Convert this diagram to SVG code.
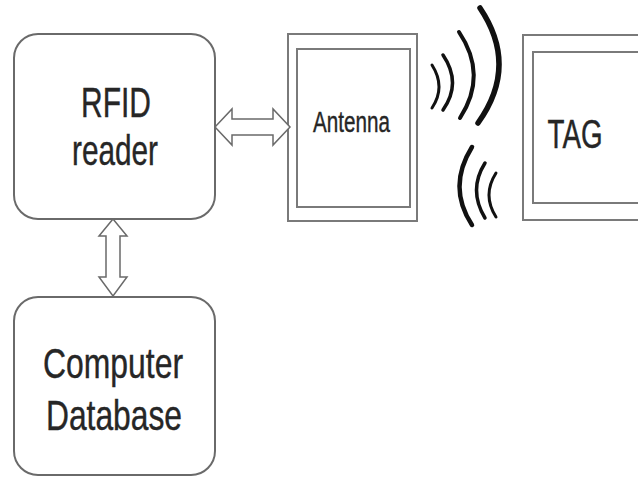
<svg xmlns="http://www.w3.org/2000/svg" width="638" height="478" viewBox="0 0 638 478">
<style>
.box{fill:#fff;stroke:#6a6a6a;stroke-width:2}
.frame{fill:none;stroke:#7a7a7a;stroke-width:2}
.lbl{font-family:"Liberation Sans",Arial,sans-serif;fill:#262626;stroke:#262626;stroke-width:0.4;text-anchor:middle}
.arw{fill:#fff;stroke:#6a6a6a;stroke-width:1.5;stroke-linejoin:miter}
.wave{fill:none;stroke:#111;stroke-linecap:round}
</style>
<rect width="638" height="478" fill="#fff"/>
<g id="rfid-reader">
<rect class="box" x="14" y="34" width="201" height="185" rx="24" ry="24"/>
<text class="lbl" x="116" y="117" font-size="42" textLength="70" lengthAdjust="spacingAndGlyphs">RFID</text>
<text class="lbl" x="115" y="165" font-size="42" textLength="86" lengthAdjust="spacingAndGlyphs">reader</text>
</g>
<g id="computer-database">
<rect class="box" x="14" y="297" width="201" height="178" rx="24" ry="24"/>
<text class="lbl" x="113" y="378" font-size="43" textLength="140" lengthAdjust="spacingAndGlyphs">Computer</text>
<text class="lbl" x="114" y="430" font-size="43" textLength="136" lengthAdjust="spacingAndGlyphs">Database</text>
</g>
<g id="antenna">
<rect class="frame" x="288" y="34" width="129" height="187"/>
<rect class="frame" x="297" y="49" width="113" height="158" stroke="#666" stroke-width="2.5"/>
<text class="lbl" x="351.5" y="132" font-size="30" textLength="77" lengthAdjust="spacingAndGlyphs" stroke-width="0.2">Antenna</text>
</g>
<g id="tag">
<rect class="frame" x="523" y="35" width="130" height="185"/>
<rect class="frame" x="533" y="52" width="120" height="151" stroke="#666" stroke-width="2.5"/>
<text class="lbl" x="575" y="148" font-size="40" textLength="55" lengthAdjust="spacingAndGlyphs">TAG</text>
</g>
<g id="connectors">
<path class="arw" d="M215,127 L232,109 L232,119 L273,119 L273,109 L290,127 L273,145 L273,135 L232,135 L232,145 Z"/>
<path class="arw" d="M113,219 L127,236 L120,236 L120,277 L127,277 L113,296 L99,277 L106,277 L106,236 L99,236 Z"/>
</g>
<g id="waves">
<path class="wave" stroke-width="3" d="M432,65 Q446,87 432,108"/>
<path class="wave" stroke-width="3.5" d="M443,55 Q462,83 443,110"/>
<path class="wave" stroke-width="4" d="M459,32 Q488,75 460,118"/>
<path class="wave" stroke-width="5.5" d="M480,8 Q519,66 478,123"/>
<path class="wave" stroke-width="4.5" d="M472,147 Q447,187 472,225"/>
<path class="wave" stroke-width="3.5" d="M485,163 Q468,190 485,218"/>
<path class="wave" stroke-width="3" d="M496,173 Q482,195 496,217"/>
</g>
</svg>
